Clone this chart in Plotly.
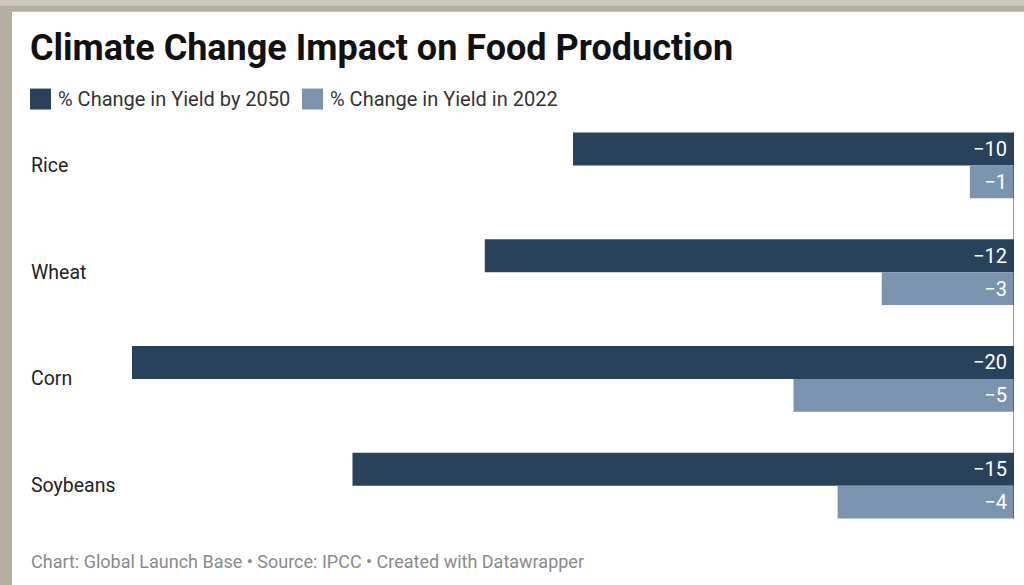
import plotly.graph_objects as go

# ---- data ----
crops = ["Rice", "Wheat", "Corn", "Soybeans"]
series_names = ["% Change in Yield by 2050", "% Change in Yield in 2022"]
yield_2050 = [-10, -12, -20, -15]
yield_2022 = [-1, -3, -5, -4]
title_text = "Climate Change Impact on Food Production"
footer_text = "Chart: Global Launch Base • Source: IPCC • Created with Datawrapper"

DARK = "#29425b"
LIGHT = "#7a94b0"
FONT = "Roboto, Arial, sans-serif"

W, H = 1024, 585
ML, MR, MT, MB = 132, 10, 111.5, 45.5
PW, PH = W - ML - MR, H - MT - MB


def px(x):
    return (x - ML) / PW


def py(y):
    return (H - MB - y) / PH


def fmt(v):
    return ("\u2212" + str(abs(v))) if v < 0 else str(v)


fig = go.Figure()
for name, vals, col in [(series_names[0], yield_2050, DARK), (series_names[1], yield_2022, LIGHT)]:
    fig.add_trace(go.Bar(
        y=crops, x=vals, orientation="h", name=name,
        marker=dict(color=col, line=dict(width=0)),
        text=[fmt(v) + "\u2009" for v in vals],
        textposition="inside", insidetextanchor="start",
        textfont=dict(family=FONT, size=20, color="white"),
        cliponaxis=False, showlegend=False,
    ))

shapes = [
    # frame background white card
    dict(type="rect", xref="paper", yref="paper", x0=px(12), x1=px(W + 5), y0=py(H + 5), y1=py(11),
         fillcolor="white", line=dict(width=0), layer="below"),
    # lighter top of frame strip
    dict(type="rect", xref="paper", yref="paper", x0=px(-5), x1=px(W + 5), y0=py(5), y1=py(-5),
         fillcolor="#cdc8bd", line=dict(width=0), layer="below"),
    # zero line
    dict(type="line", xref="x", yref="paper", x0=0, x1=0, y0=py(519), y1=py(132),
         line=dict(color="#333333", width=1)),
]

annotations = [
    dict(text="<b>" + title_text + "</b>", xref="paper", yref="paper", x=px(28), y=py(47),
         xanchor="left", yanchor="middle", showarrow=False,
         font=dict(family=FONT, size=36, color="#111111")),
    dict(text=footer_text, xref="paper", yref="paper", x=px(29), y=py(562),
         xanchor="left", yanchor="middle", showarrow=False,
         font=dict(family=FONT, size=18, color="#8a8a8a")),
]

# legend (manual)
leg_x = [30, 302]
for i, (name, col) in enumerate(zip(series_names, [DARK, LIGHT])):
    x0 = leg_x[i]
    shapes.append(dict(type="rect", xref="paper", yref="paper", x0=px(x0), x1=px(x0 + 21),
                       y0=py(109), y1=py(88), fillcolor=col, line=dict(width=0)))
    annotations.append(dict(text=name, xref="paper", yref="paper", x=px(x0 + 26), y=py(98),
                            xanchor="left", yanchor="middle", showarrow=False,
                            font=dict(family=FONT, size=20, color="#333333")))

# category labels
for c in crops:
    annotations.append(dict(text=c, xref="paper", yref="y", x=px(29), y=c,
                            xanchor="left", yanchor="middle", showarrow=False,
                            font=dict(family=FONT, size=19.5, color="#222222")))

fig.update_layout(
    width=W, height=H,
    margin=dict(l=ML, r=MR, t=MT, b=MB, pad=0),
    paper_bgcolor="#b5afa3", plot_bgcolor="rgba(0,0,0,0)",
    barmode="group", bargap=41 / 107, bargroupgap=0,
    xaxis=dict(range=[-20, 0], visible=False, fixedrange=True),
    yaxis=dict(autorange="reversed", visible=False, fixedrange=True),
    shapes=shapes, annotations=annotations,
    font=dict(family=FONT),
)

fig.write_html("out.html", config={"displayModeBar": False},
               post_script="document.body.style.margin='0px';")
